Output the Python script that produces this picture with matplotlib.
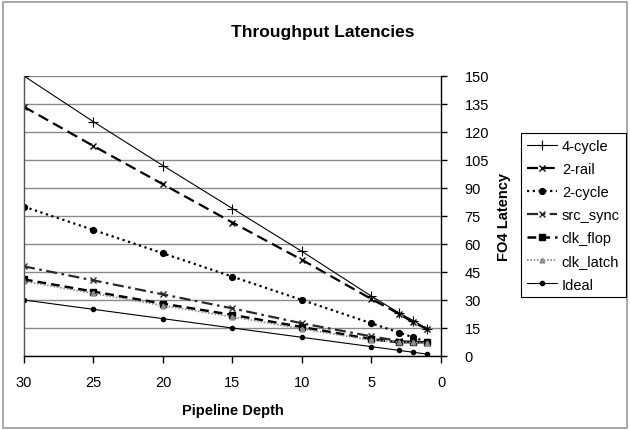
import matplotlib
matplotlib.use("Agg")
import matplotlib.pyplot as plt
from matplotlib.patches import Rectangle

plt.rcParams['font.family'] = ['Liberation Sans', 'DejaVu Sans']

depth = [30, 25, 20, 15, 10, 5, 3, 2, 1]
cycle4 = [150, 125.5, 102, 79, 56, 32, 23, 19, 14.5]
rail2 = [133.5, 112.5, 92, 71.5, 51.5, 30.5, 22.5, 18, 14.5]
cycle2 = [80, 67.5, 55, 42.5, 30, 17.5, 12.5, 10, 7.5]
src_sync = [48, 40.5, 33, 25.5, 17.5, 10.5, 8, 7.5, 7]
clk_flop = [41, 34.5, 28, 22, 15.5, 9, 7.3, 7.5, 7.3]
clk_latch = [40, 33.5, 27, 21, 14.5, 8.5, 7.5, 7.3, 7]
ideal = [30, 25, 20, 15, 10, 5, 3, 2, 1]

x_ticks = [30, 25, 20, 15, 10, 5, 0]
y_ticks = list(range(0, 151, 15))

fig = plt.figure(figsize=(6.3, 4.31), dpi=100)
ax = fig.add_axes([0.038, 0.1717, 0.662, 0.6497])

ax.yaxis.grid(True, color='#8a8a8a', linewidth=1.0)
ax.set_axisbelow(True)

ax.plot(depth, cycle4, color='black', linewidth=0.8, marker='+', markersize=7,
        markeredgewidth=0.8, label='4-cycle')
ax.plot(depth, rail2, color='black', linewidth=1.6, linestyle=(0, (5, 2.5)), marker='x',
        markersize=4.5, markeredgewidth=1.0, label='2-rail')
ax.plot(depth, cycle2, color='black', linewidth=1.6, linestyle=(0, (1, 1.6)), marker='o',
        markersize=4.2, label='2-cycle')
ax.plot(depth, src_sync, color='#2a2a2a', linewidth=1.6, linestyle=(0, (5, 2, 1.2, 2)), marker='x',
        markersize=4.5, markeredgewidth=1.0, label='src_sync')
ax.plot(depth, clk_flop, color='black', linewidth=1.8, linestyle=(0, (3.5, 2)), marker='s',
        markersize=4.3, label='clk_flop')
ax.plot(depth, clk_latch, color='#8c8c8c', linewidth=1.2, linestyle=(0, (1, 1)), marker='^',
        markersize=3.5, label='clk_latch')
ax.plot(depth, ideal, color='black', linewidth=0.8, marker='o', markersize=3,
        label='Ideal')

ax.set_xlim(30, 0)
ax.set_ylim(0, 150)
ax.set_xticks(x_ticks)
ax.set_xticklabels([str(v) for v in x_ticks])
ax.set_yticks(y_ticks)
ax.yaxis.tick_right()
ax.yaxis.set_label_position('right')

ax.spines['top'].set_visible(False)
ax.spines['left'].set_color('#555555')
ax.spines['left'].set_linewidth(1.0)
ax.spines['right'].set_linewidth(1.0)
ax.spines['bottom'].set_linewidth(1.0)

ax.tick_params(axis='x', direction='out', length=5, width=1.0, labelsize=10.5, pad=9)
ax.tick_params(axis='y', direction='out', length=4, width=1.0, labelsize=10.5, pad=13)

ax.set_xlabel('Pipeline Depth', fontsize=10.5, fontweight='bold', labelpad=10)
ax.set_ylabel('FO4 Latency', fontsize=10.5, fontweight='bold', labelpad=6)

fig.text(0.512, 0.925, 'Throughput Latencies', ha='center', va='center',
         fontsize=12.5, fontweight='bold')

leg = fig.legend(loc='upper left', bbox_to_anchor=(0.827, 0.688), fontsize=10.5,
                 frameon=True, fancybox=False, edgecolor='black', framealpha=1,
                 handlelength=2.1, handletextpad=0.3, labelspacing=0.62,
                 borderpad=0.4, borderaxespad=0)
leg.get_frame().set_linewidth(0.8)

fig.patches.append(Rectangle((0.004, 0.004), 0.992, 0.99, transform=fig.transFigure,
                             fill=False, edgecolor='#9a9a9a', linewidth=1.2))

fig.savefig('out.png', dpi=100)
